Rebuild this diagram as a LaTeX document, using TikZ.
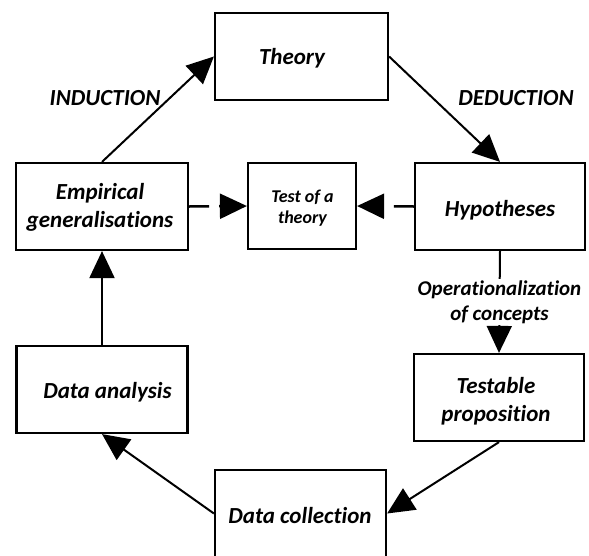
\documentclass[tikz,border=0pt]{standalone}
\usepackage{fontspec}
\setmainfont{Carlito}[Ligatures=NoCommon]
\usetikzlibrary{arrows.meta}
\begin{document}
\begin{tikzpicture}[x=1pt,y=-1pt,
  box/.style={draw, line width=2.2pt, minimum height=87pt, inner sep=0pt},
  txt/.style={font=\fontsize{23}{28}\selectfont\bfseries\itshape, align=center, inner sep=0pt},
  small/.style={font=\fontsize{18}{21}\selectfont\bfseries\itshape, align=center, inner sep=0pt},
  oplabel/.style={font=\fontsize{21}{25}\selectfont\bfseries\itshape, align=center, fill=white, inner sep=1pt},
  arr/.style={line width=2pt, -{Triangle[length=27pt,width=25pt]}},
  darr/.style={arr, line width=2.5pt, dash pattern=on 20pt off 10pt}]
\path[use as bounding box] (0,0) rectangle (589,555);
\clip (0,0) rectangle (589,555);
% boxes
\node[box, minimum width=173pt] (theory) at (301.5,56.5) {};
\node[box, minimum width=172pt] (emp) at (102,206.5) {};
\node[box, minimum width=108pt, minimum height=86pt] (test) at (302,206) {};
\node[box, minimum width=170pt] (hyp) at (500,206.5) {};
\node[box, minimum width=170pt] (testable) at (499,397.5) {};
\node[box, minimum width=171pt] (da) at (102,389.5) {};
\node[box, minimum width=171pt] (dc) at (300.5,513.5) {};
% texts
\node[txt] (ttheory) at (292,58) {Theory};
\node[txt] (temp) at (100,207) {Empirical\\generalisations};
\node[small] (ttest) at (302.5,208) {Test of a\\theory};
\node[txt] (thyp) at (500,210) {Hypotheses};
\node[txt] (ttestable) at (496,401) {Testable\\proposition};
\node[txt] (tda) at (107.5,392) {Data analysis};
\node[txt] (tdc) at (300,516) {Data collection};
\node[txt] (induction) at (105,98) {INDUCTION};
\node[txt] (deduction) at (516,98) {DEDUCTION};
% connectors
\draw[arr] (emp.north) -- (theory.west);
\draw[arr] (theory.east) -- (hyp.north);
\draw[darr] (emp.east) -- (test.west);
\draw[darr] (hyp.west) -- (test.east);
\draw[arr] (hyp.south) -- node[oplabel] (op) {Operationalization\\of concepts} (testable.north);
\draw[arr] (testable.south) -- (dc.east);
\draw[arr] (dc.west) -- (da.south);
\draw[arr] (da.north) -- (emp.south);
\end{tikzpicture}
\end{document}
